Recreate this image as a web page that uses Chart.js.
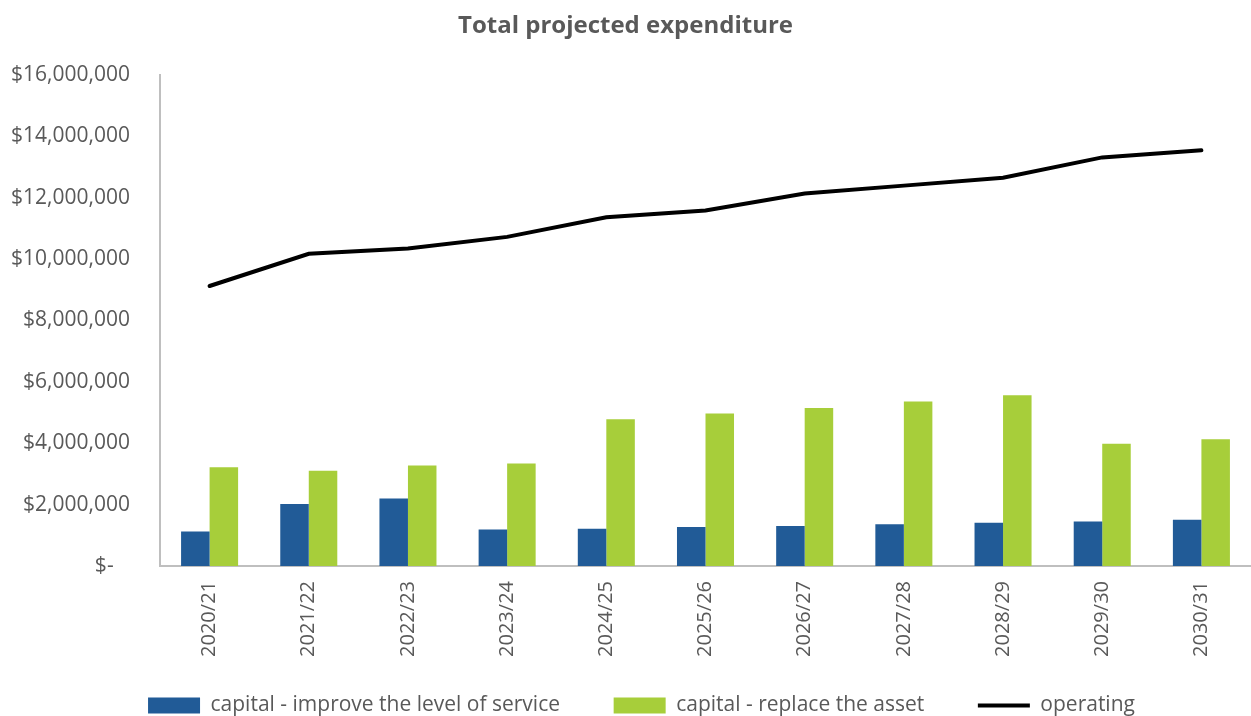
<!DOCTYPE html>
<html>
<head>
<meta charset="utf-8">
<script src="https://cdn.jsdelivr.net/npm/chart.js@4/dist/chart.umd.min.js"></script>
<style>
  html, body { margin: 0; padding: 0; background: #fff; }
  #wrap { width: 1251px; height: 716px; }
</style>
</head>
<body>
<div id="wrap"><canvas id="expChart" width="1251" height="716"></canvas></div>
<script>
// projected expenditure per financial year
const years = ["2020/21", "2021/22", "2022/23", "2023/24", "2024/25", "2025/26",
               "2026/27", "2027/28", "2028/29", "2029/30", "2030/31"];
const improveService = [1120000, 2020000, 2200000, 1190000, 1210000, 1270000,
                        1300000, 1360000, 1410000, 1450000, 1510000];
const replaceAsset = [3220000, 3100000, 3270000, 3340000, 4780000, 4970000,
                      5150000, 5360000, 5560000, 3980000, 4130000];
const operating = [9120000, 10170000, 10340000, 10720000, 11360000, 11580000,
                   12130000, 12390000, 12650000, 13310000, 13540000];

const grey = "#595959";
const axisGrey = "#BFBFBF";
const font = "'Open Sans'";

// wider gap after each legend entry except the last
const legendGap = "        ";

// nudge the legend row a little to the right of centre
const legendShift = {
  id: "legendShift",
  afterLayout(chart) {
    chart.legend.left += 16;
    chart.legend.right += 16;
  }
};

new Chart(document.getElementById("expChart"), {
  data: {
    labels: years,
    datasets: [
      {
        type: "bar",
        label: "capital - improve the level of service",
        data: improveService,
        backgroundColor: "#215B97",
        pointStyle: "rect",
        categoryPercentage: 0.575,
        barPercentage: 1.0
      },
      {
        type: "bar",
        label: "capital - replace the asset",
        data: replaceAsset,
        backgroundColor: "#A7CE3A",
        pointStyle: "rect",
        categoryPercentage: 0.575,
        barPercentage: 1.0
      },
      {
        type: "line",
        label: "operating",
        data: operating,
        borderColor: "#000",
        backgroundColor: "#000",
        borderWidth: 4,
        borderCapStyle: "round",
        tension: 0,
        pointRadius: 0,
        pointStyle: "line"
      }
    ]
  },
  options: {
    responsive: false,
    animation: false,
    layout: { padding: { left: 0, right: 0, top: 0, bottom: -10 } },
    plugins: {
      title: {
        display: true,
        text: "Total projected expenditure",
        color: grey,
        font: { family: font, size: 24, weight: "bold" },
        padding: { top: 12, bottom: 34 }
      },
      legend: {
        position: "bottom",
        labels: {
          usePointStyle: true,
          pointStyleWidth: 52,
          boxHeight: 16,
          padding: 10,
          color: grey,
          font: { family: font, size: 21 },
          generateLabels: chart => {
            const items = Chart.defaults.plugins.legend.labels.generateLabels(chart);
            return items.map((it, i) => i < items.length - 1 ? { ...it, text: it.text + legendGap } : it);
          }
        }
      },
      tooltip: { enabled: false }
    },
    scales: {
      x: {
        grid: { display: false, drawTicks: false },
        border: { color: axisGrey, width: 2 },
        ticks: {
          color: grey,
          font: { family: font, size: 20 },
          minRotation: 90,
          maxRotation: 90,
          padding: 15
        },
        afterFit: scale => { scale.height = 119; }
      },
      y: {
        min: 0,
        max: 16000000,
        grid: { display: false, drawTicks: false },
        border: { color: axisGrey, width: 2 },
        ticks: {
          stepSize: 2000000,
          color: grey,
          font: { family: font, size: 21 },
          padding: 30,
          callback: v => v === 0 ? "$-   " : "$" + v.toLocaleString("en-US")
        },
        afterFit: scale => { scale.width = 160; }
      }
    }
  },
  plugins: [legendShift]
});
</script>
</body>
</html>
